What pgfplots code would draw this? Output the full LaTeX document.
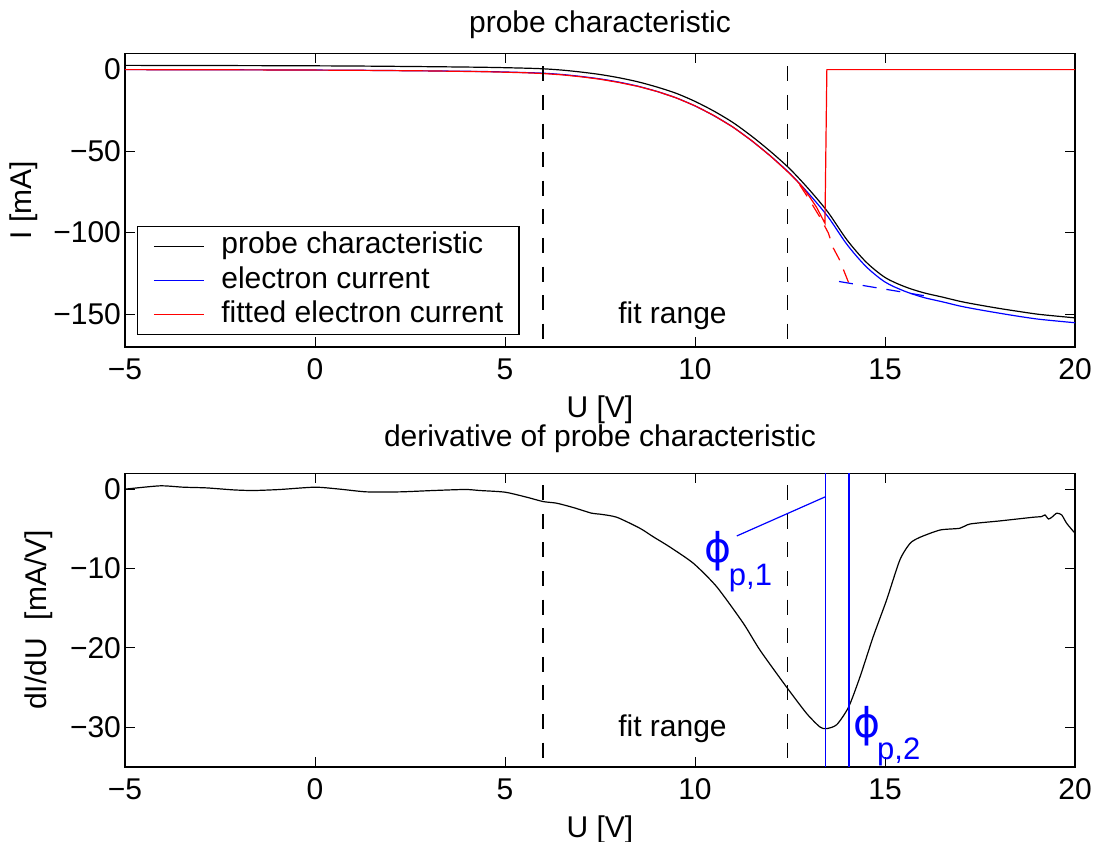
\documentclass[border=0pt]{standalone}
\usepackage{fontspec}
\setmainfont{Liberation Sans}
\newfontfamily\dejavu{DejaVu Sans}
\usepackage{pgfplots}
\pgfplotsset{compat=1.18}

\pgfplotsset{myax/.style={
  scale only axis, width=475pt, height=146.7pt,
  xmin=-5, xmax=20,
  xtick={-5,0,5,10,15,20}, xticklabels={−5,0,5,10,15,20},
  tick align=inside, tick pos=both,
  major tick length=5pt,
  tick style={black, line width=0.5pt},
  axis line style={line width=0.8pt},
  every axis plot/.append style={line width=0.6pt},
  /pgf/number format/assume math mode=true,
  xticklabel style={yshift=-2.5pt},
  yticklabel style={xshift=1.5pt},
  xlabel style={at={(axis description cs:0.5,0)}, anchor=base, yshift=-35.5pt},
  every axis title shift=0pt,
  clip mode=individual,
}}

\begin{document}
\begin{tikzpicture}[font=\fontsize{15}{18}\selectfont]
\useasboundingbox (0pt,0pt) rectangle (549pt,-420.5pt);

% ---------------- top axis ----------------
\begin{axis}[myax, at={(62.5pt,-26.65pt)}, anchor=north west,
  ymin=-170, ymax=10,
  ytick={-150,-100,-50,0}, yticklabels={−150,−100,−50,0},
  title={probe characteristic},
  title style={at={(axis description cs:0.5,1)}, anchor=base, yshift=10.65pt},
  xlabel={U [V]},
  ylabel={I [mA]},
  ylabel style={at={(axis description cs:-0.0989,0.5)}, anchor=base},
  legend style={at={(axis description cs:0.0123,0.04)}, anchor=south west,
    draw=black, line width=0.7pt, fill=white,
    inner xsep=8pt, inner ysep=2.6pt, row sep=3pt,
    nodes={inner sep=0pt, text height=11pt, text depth=3.2pt},
    font=\fontsize{15}{18}\selectfont},
  legend cell align=left,
  legend image code/.code={\draw[line width=0.5pt,#1] (4pt,0pt) -- (29pt,0pt);},
  /tikz/every odd column/.append style={column sep=8.5pt},
]
\addplot[black, smooth, tension=0.5] coordinates {
(-5,2.6)(-3,2.5)(-1,2.4)(1,2.2)(3,1.8)(4.5,1.4)(5.5,0.9)(6.0,0.5)(6.5,-0.3)
(7.0,-1.5)(7.5,-3.0)(8.0,-5.0)(8.5,-7.5)(9.0,-10.7)(9.5,-14.5)(10.0,-19.5)
(10.5,-25.5)(11.0,-32.5)(11.5,-41.0)(12.0,-50.5)(12.5,-61.0)(13.0,-73.5)
(13.5,-87.5)(14.0,-104.5)(14.5,-118)(15.0,-127.5)(15.5,-133)(16.0,-136.8)
(16.5,-139.5)(17.0,-142.3)(17.5,-144.5)(18.0,-146.5)(18.5,-148.3)(19.0,-150)
(19.5,-151.2)(20,-152.3)};
\addlegendentry{probe characteristic}
\addplot[blue, smooth, tension=0.5] coordinates {
(-5,0.0)(-3,-0.1)(-1,-0.2)(1,-0.4)(3,-0.8)(4.5,-1.2)(5.5,-1.8)(6.0,-2.2)(6.5,-3.0)
(7.0,-4.2)(7.5,-5.7)(8.0,-7.7)(8.5,-10.2)(9.0,-13.4)(9.5,-17.3)(10.0,-22.3)
(10.5,-28.3)(11.0,-35.3)(11.5,-43.8)(12.0,-53.3)(12.5,-63.8)(13.0,-76.3)
(13.5,-90.3)(14.0,-107.3)(14.5,-120.8)(15.0,-130.3)(15.5,-135.8)(16.0,-139.7)
(16.5,-142.4)(17.0,-145.2)(17.5,-147.4)(18.0,-149.4)(18.5,-151.3)(19.0,-153.0)
(19.5,-154.2)(20,-155.3)};
\addlegendentry{electron current}
\addplot[red] coordinates {
(-5,0)(-3,-0.1)(-1,-0.2)(1,-0.4)(3,-0.8)(4.5,-1.3)(5.5,-1.9)(6.0,-2.4)(6.5,-3.2)
(7.0,-4.4)(7.5,-5.9)(8.0,-7.9)(8.5,-10.3)(9.0,-13.4)(9.5,-17.3)(10.0,-22.2)
(10.5,-28.2)(11.0,-35.3)(11.5,-43.7)(12.0,-53.3)(12.5,-64.0)(12.8,-71.2)
(13.0,-77.5)(13.2,-84.5)(13.42,-94.3)(13.47,0)(20,0)};
\addlegendentry{fitted electron current}
\addplot[red, dash pattern=on 7pt off 5pt, forget plot] coordinates {
(12.75,-70.5)(12.98,-78.8)(13.3,-91)(13.51,-100.3)(13.64,-109.5)(13.8,-116.5)(14.1,-134.1)};
\addplot[blue, dash pattern=on 7pt off 5pt, forget plot] coordinates {
(13.79,-130)(16.18,-139.3)};
\addplot[black, dash pattern=on 7.5pt off 6.8pt, forget plot] coordinates {(6,2)(6,-170)};
\addplot[black, dash pattern=on 7.5pt off 6.8pt, forget plot] coordinates {(12.43,2)(12.43,-170)};
\node[anchor=base west, inner sep=0pt] at (axis cs:7.97,-156) {fit range};
\end{axis}

% ---------------- bottom axis ----------------
\begin{axis}[myax, at={(62.5pt,-236.65pt)}, anchor=north west,
  ymin=-35, ymax=2,
  ytick={-30,-20,-10,0}, yticklabels={−30,−20,−10,0},
  title={derivative of probe characteristic},
  title style={at={(axis description cs:0.5,1)}, anchor=base, yshift=13.3pt},
  xlabel={U [V]},
  ylabel={dI/dU\hspace{0.6em}[mA/V]},
  ylabel style={at={(axis description cs:-0.0821,0.5)}, anchor=base},
]
\addplot[black, smooth, tension=0.4] coordinates {
(-5,0)(-4.08,0.42)(-3.47,0.25)(-2.85,0.16)(-2.15,-0.09)(-1.62,-0.17)(-0.92,-0.04)
(0,0.25)(0.66,0)(1.36,-0.34)(2.24,-0.34)(3.11,-0.17)(3.95,-0.04)(4.34,-0.17)
(5,-0.38)(5.57,-1.01)(6.0,-1.56)(6.36,-1.77)(6.80,-2.32)(7.28,-3.03)(7.5,-3.15)
(7.94,-3.54)(8.55,-4.93)(8.90,-6.0)(9.34,-7.3)(9.96,-9.36)(10.57,-12.3)
(11.27,-16.9)(11.71,-20.3)(12.41,-24.96)(12.94,-28.3)(13.29,-30.0)(13.46,-30.2)
(13.73,-29.7)(14.04,-27.5)(14.34,-23.7)(14.69,-18.6)(15.04,-14.0)(15.39,-8.94)
(15.66,-6.83)(15.92,-6.07)(16.45,-5.15)(16.97,-4.93)(17.24,-4.39)(18.03,-4.0)
(18.90,-3.54)(19.12,-3.46)(19.21,-3.25)(19.30,-3.76)(19.39,-3.54)(19.52,-3.03)
(19.65,-3.25)(19.78,-4.30)(20,-5.56)};
\addplot[black, dash pattern=on 7.5pt off 6.8pt] coordinates {(6,0.5)(6,-35)};
\addplot[black, dash pattern=on 7.5pt off 6.8pt] coordinates {(12.43,0.5)(12.43,-35)};
\addplot[blue] coordinates {(13.44,-35)(13.44,2)};
\addplot[blue] coordinates {(14.05,-35)(14.05,2)};
\addplot[blue] coordinates {(11.10,-5.9)(13.44,-0.94)};
\node[anchor=base west, inner sep=0pt] at (axis cs:7.97,-31.2) {fit range};
\node[blue, anchor=base west, inner sep=0pt] at (axis cs:10.25,-9.19)
  {{\dejavu\fontsize{20.5}{21}\selectfont ϕ}\kern-1.5pt\raisebox{-11.5pt}{\fontsize{15.5}{17}\selectfont p,1}};
\node[blue, anchor=base west, inner sep=0pt] at (axis cs:14.15,-31.28)
  {{\dejavu\fontsize{20.5}{21}\selectfont ϕ}\kern-1.5pt\raisebox{-11pt}{\fontsize{15.5}{17}\selectfont p,2}};
\end{axis}
\end{tikzpicture}
\end{document}
